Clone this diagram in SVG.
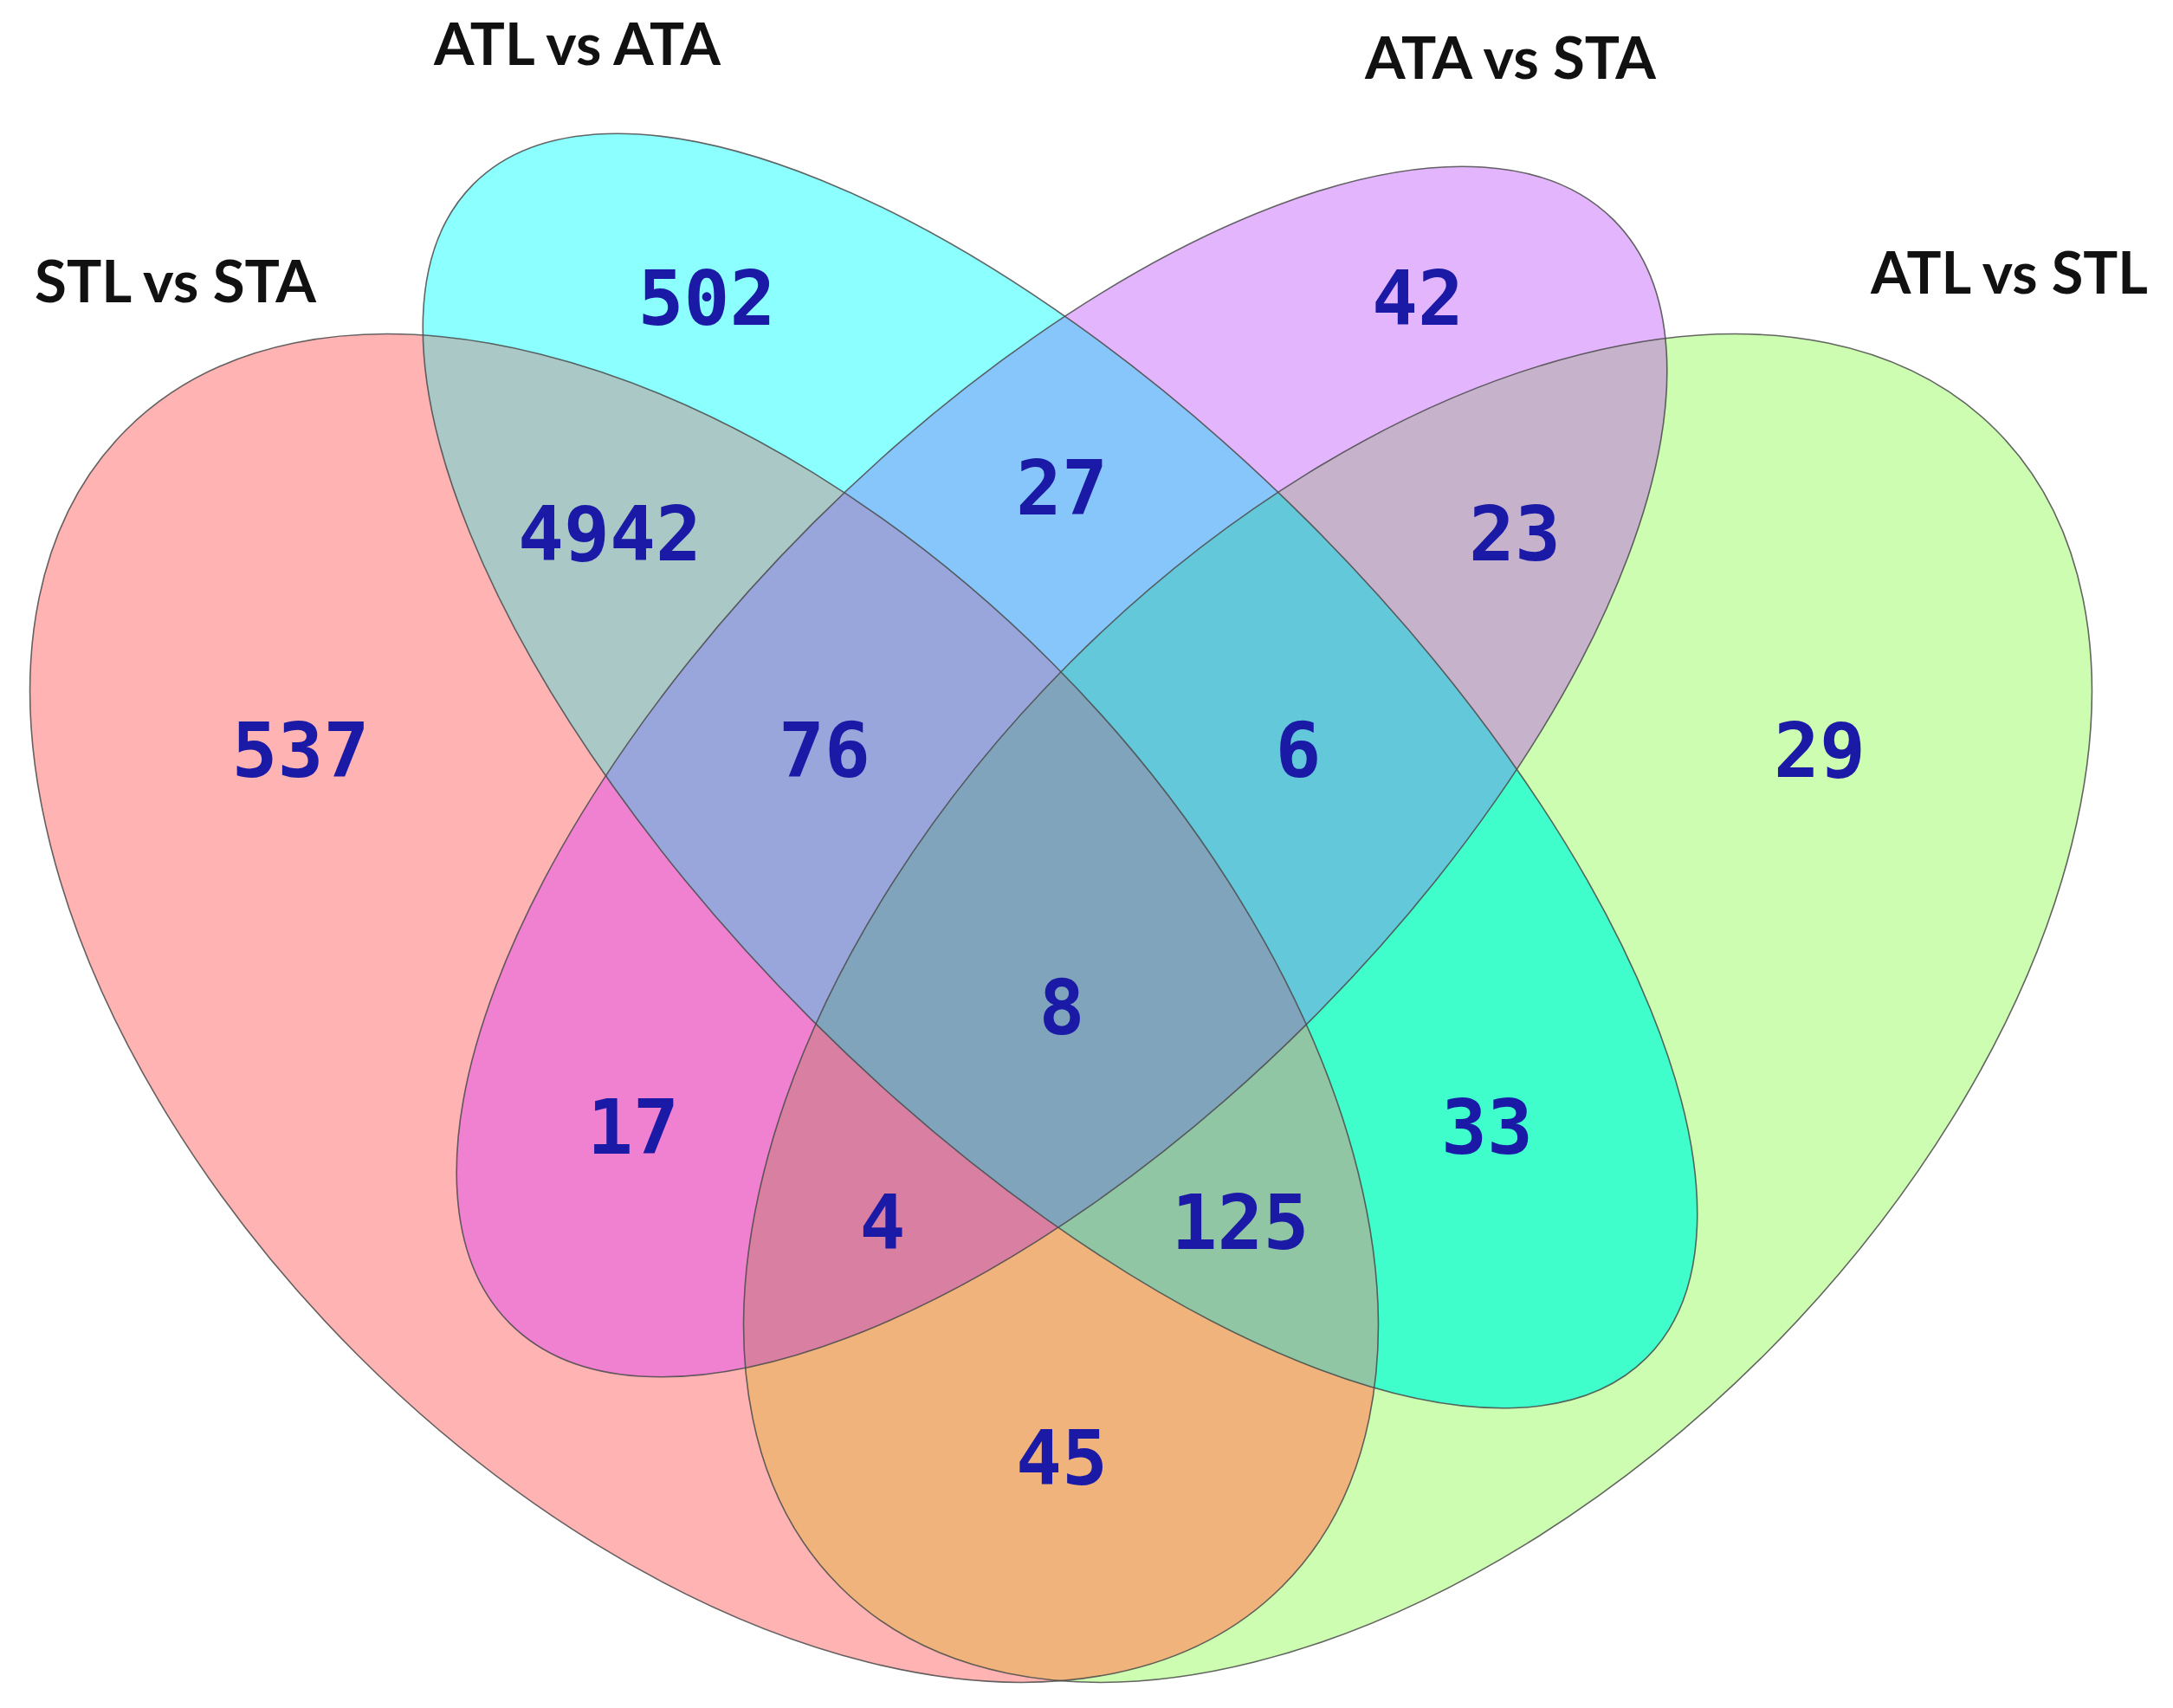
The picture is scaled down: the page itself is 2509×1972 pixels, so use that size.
<svg xmlns="http://www.w3.org/2000/svg" xmlns:xlink="http://www.w3.org/1999/xlink" width="2509" height="1972" viewBox="0 0 2509 1972">
<style>
.lbl{font-family:Lato,"Open Sans","Liberation Sans",sans-serif;font-weight:700;font-size:66px;fill:#111}
.num{font-family:"DejaVu Sans Mono","Liberation Mono",monospace;font-weight:700;font-size:88px;fill:#1a1aa6;text-anchor:middle}
.edge{fill:none;stroke:#4a4a4a;stroke-width:1.6;stroke-opacity:0.85}
</style>
<defs>
<ellipse id="R" cx="0" cy="0" rx="944" ry="566" transform="translate(813,1164) rotate(45)"/>
<ellipse id="C" cx="0" cy="0" rx="958" ry="406" transform="translate(1224,890) rotate(45)"/>
<ellipse id="M" cx="0" cy="0" rx="901" ry="406" transform="translate(1226,891) rotate(-45)"/>
<ellipse id="G" cx="0" cy="0" rx="944" ry="566" transform="translate(1637,1164) rotate(-45)"/>
<clipPath id="cR"><use xlink:href="#R"/></clipPath>
<clipPath id="cC"><use xlink:href="#C"/></clipPath>
<clipPath id="cM"><use xlink:href="#M"/></clipPath>
<clipPath id="cG"><use xlink:href="#G"/></clipPath>
</defs>
<rect width="2509" height="1972" fill="#ffffff"/>
<g id="regions">
<use xlink:href="#R" fill="#ffb3b3"/>
<use xlink:href="#G" fill="#ccfdb0"/>
<use xlink:href="#C" fill="#8cffff"/>
<use xlink:href="#M" fill="#e3b5fd"/>
<g clip-path="url(#cR)"><use xlink:href="#C" fill="#aac8c6"/></g>
<g clip-path="url(#cR)"><use xlink:href="#M" fill="#f080d0"/></g>
<g clip-path="url(#cR)"><use xlink:href="#G" fill="#f0b37c"/></g>
<g clip-path="url(#cC)"><use xlink:href="#M" fill="#87c6fa"/></g>
<g clip-path="url(#cC)"><use xlink:href="#G" fill="#40fecb"/></g>
<g clip-path="url(#cM)"><use xlink:href="#G" fill="#c6b3cb"/></g>
<g clip-path="url(#cR)"><g clip-path="url(#cC)"><use xlink:href="#M" fill="#99a6dc"/></g></g>
<g clip-path="url(#cR)"><g clip-path="url(#cC)"><use xlink:href="#G" fill="#90c6a4"/></g></g>
<g clip-path="url(#cR)"><g clip-path="url(#cM)"><use xlink:href="#G" fill="#d97fa2"/></g></g>
<g clip-path="url(#cC)"><g clip-path="url(#cM)"><use xlink:href="#G" fill="#62c8da"/></g></g>
<g clip-path="url(#cR)"><g clip-path="url(#cC)"><g clip-path="url(#cM)"><use xlink:href="#G" fill="#80a4bb"/></g></g></g>
</g>
<g id="set-STL-vs-STA">
<use xlink:href="#R" class="edge"/>
<text class="lbl" x="40" y="349" textLength="325" lengthAdjust="spacingAndGlyphs">STL vs STA</text>
</g>
<g id="set-ATL-vs-ATA">
<use xlink:href="#C" class="edge"/>
<text class="lbl" x="501" y="75" textLength="331" lengthAdjust="spacingAndGlyphs">ATL vs ATA</text>
</g>
<g id="set-ATA-vs-STA">
<use xlink:href="#M" class="edge"/>
<text class="lbl" x="1576" y="91" textLength="336" lengthAdjust="spacingAndGlyphs">ATA vs STA</text>
</g>
<g id="set-ATL-vs-STL">
<use xlink:href="#G" class="edge"/>
<text class="lbl" x="2160" y="339" textLength="320" lengthAdjust="spacingAndGlyphs">ATL vs STL</text>
</g>
<g id="counts">
<text class="num" x="816" y="375">502</text>
<text class="num" x="1637" y="375">42</text>
<text class="num" x="1226" y="594">27</text>
<text class="num" x="704" y="647">4942</text>
<text class="num" x="1749" y="647">23</text>
<text class="num" x="347" y="897">537</text>
<text class="num" x="952" y="897">76</text>
<text class="num" x="1499" y="897">6</text>
<text class="num" x="2101" y="897">29</text>
<text class="num" x="1226" y="1194">8</text>
<text class="num" x="731" y="1332">17</text>
<text class="num" x="1717" y="1332">33</text>
<text class="num" x="1019" y="1442">4</text>
<text class="num" x="1432" y="1442">125</text>
<text class="num" x="1226" y="1714">45</text>
</g>
</svg>
